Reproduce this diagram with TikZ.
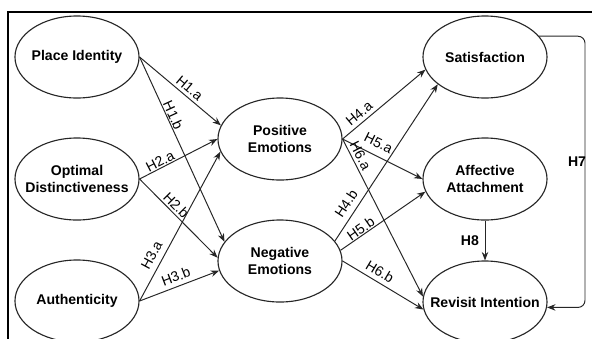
\documentclass[tikz,border=0pt]{standalone}
\usepackage{fontspec}
\setmainfont{Liberation Sans}
\usetikzlibrary{arrows.meta,shapes.geometric}
\begin{document}
\begin{tikzpicture}[x=0.025cm,y=-0.025cm,
  ell/.style={ellipse,draw=black!85,line width=0.8pt,minimum width=3.1cm,minimum height=2.05cm,inner sep=0pt},
  txt/.style={align=center,font=\bfseries\fontsize{10}{11.5}\selectfont,inner sep=0pt},
  conn/.style={draw=black!85,line width=0.7pt,-{Stealth[length=6pt,width=4.6pt]}},
  lab/.style={font=\fontsize{10}{12}\selectfont,sloped,inner sep=0pt},
  blab/.style={font=\bfseries\fontsize{10}{12}\selectfont,inner sep=0pt},
  ]
\useasboundingbox (0,0) rectangle (592,338);
\clip (0,0) rectangle (592,338);
% frame
\draw[line width=1.6pt] (8,340) -- (8,12) -- (594,12);
% ellipses
\node[ell] (pi) at (77,57) {};   \node[txt] (pit) at (pi) {Place Identity};
\node[ell] (od) at (77,179) {};  \node[txt] (odt) at (od) {Optimal\\Distinctiveness};
\node[ell] (au) at (77,301) {};  \node[txt] (aut) at (au) {Authenticity};
\node[ell] (pe) at (280,139) {}; \node[txt] (pet) at (pe) {Positive\\Emotions};
\node[ell] (ne) at (280,261) {}; \node[txt] (net) at (ne) {Negative\\Emotions};
\node[ell] (sa) at (485,57) {};  \node[txt] (sat) at (sa) {Satisfaction};
\node[ell] (af) at (485,179) {}; \node[txt] (aft) at (af) {Affective\\Attachment};
\node[ell] (ri) at (485,302) {}; \node[txt] (rit) at (ri) {Revisit Intention};
% left connectors
\draw[conn] (pi.east) -- node[lab,pos=0.55,above=2pt]{H1.a} (pe.167);
\draw[conn] (pi.east) -- node[lab,pos=0.33,above=0.5pt]{H1.b} (ne.161);
\draw[conn] (od.east) -- node[lab,pos=0.3,above=0.5pt]{H2.a} (pe.180);
\draw[conn] (od.east) -- node[lab,pos=0.4,above=1.5pt]{H2.b} (ne.177);
\draw[conn] (au.east) -- node[lab,pos=0.27,above=4pt]{H3.a} (pe.192);
\draw[conn] (au.east) -- node[lab,pos=0.5,above=3pt]{H3.b} (ne.189);
% right connectors
\draw[conn] (pe.east) -- node[lab,pos=0.27,above=2.5pt]{H4.a} (sa.192);
\draw[conn] (pe.east) -- node[lab,pos=0.38,above=5pt]{H5.a} (af.west);
\draw[conn] (pe.east) -- node[lab,pos=0.13,above=2pt]{H6.a} (ri.175);
\draw[conn] (ne.20) -- node[lab,pos=0.2,above=4pt]{H4.b} (sa.210);
\draw[conn] (ne.10) -- node[lab,pos=0.28,above=0.5pt]{H5.b} (af.192);
\draw[conn] (ne.east) -- node[lab,pos=0.4,above=3pt]{H6.b} (ri.187);
% H8
\draw[conn] (af.south) -- node[blab,left=4pt]{H8} (ri.north);
% H7
\coordinate (c7) at (585,160);
\draw[conn,rounded corners=5pt] (sa.21) -| (c7) |- (ri.-5);
\node[blab] (h7) at (577,162) {H7};
\end{tikzpicture}
\end{document}
